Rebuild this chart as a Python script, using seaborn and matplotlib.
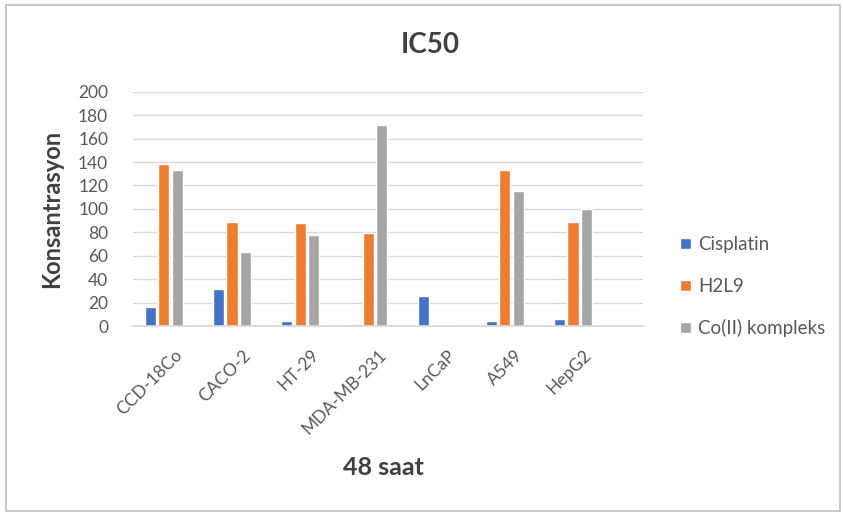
import matplotlib
matplotlib.use("Agg")
import matplotlib.pyplot as plt
from matplotlib.patches import Rectangle
from matplotlib.transforms import ScaledTranslation
import seaborn as sns
import pandas as pd

# IC50 values (48 h) per cell line
cell_lines = ["CCD-18Co", "CACO-2", "HT-29", "MDA-MB-231", "LnCaP", "A549", "HepG2"]
cisplatin = [16, 32, 4, 2, 26, 4, 6]
h2l9 = [138, 89, 88, 79, 0, 133, 89]
co_complex = [133, 63, 78, 172, 0, 115, 100]
series_names = ["Cisplatin", "H2L9", "Co(II) kompleks"]
y_ticks = [0, 20, 40, 60, 80, 100, 120, 140, 160, 180, 200]

colors = ["#4472C4", "#ED7D31", "#A5A5A5"]
text_gray = "#595959"
grid_gray = "#D9D9D9"

df = pd.DataFrame({
    "cell": cell_lines * 3,
    "series": [s for s in series_names for _ in cell_lines],
    "value": cisplatin + h2l9 + co_complex,
})

sns.set_theme(style="white")
plt.rcParams["font.family"] = ["Lato", "DejaVu Sans"]

fig = plt.figure(figsize=(8.43, 5.13), dpi=100)
ax = fig.add_axes([0.158, 0.3645, 0.605, 0.4567])

sns.barplot(data=df, x="cell", y="value", hue="series", order=cell_lines,
            hue_order=series_names, palette=colors, width=0.59, gap=0.17,
            saturation=1, ax=ax, legend=True)

ax.set_ylim(0, 200)
ax.set_xlim(-0.45, 7.03)
ax.set_yticks(y_ticks)
ax.set_yticklabels([str(t) for t in y_ticks], color=text_gray, fontsize=12.5)
ax.yaxis.grid(True, color=grid_gray, linewidth=1)
ax.set_axisbelow(True)
for side in ["top", "right", "left"]:
    ax.spines[side].set_visible(False)
ax.spines["bottom"].set_color(grid_gray)
ax.tick_params(axis="y", length=0, pad=18)
ax.tick_params(axis="x", length=0, pad=15)

ax.set_xticks(range(len(cell_lines)))
ax.set_xticklabels(cell_lines, rotation=45, ha="right", rotation_mode="anchor",
                   color=text_gray, fontsize=12.5)
# nudge the slanted category labels slightly to the right of their ticks
shift = ScaledTranslation(0.1, 0, fig.dpi_scale_trans)
for lbl in ax.get_xticklabels():
    lbl.set_transform(lbl.get_transform() + shift)

ax.set_xlabel("48 saat", fontsize=18, fontweight="bold", color="#404040")
ax.xaxis.set_label_coords(0.49, -0.555)
ax.set_ylabel("Konsantrasyon", fontsize=17, fontweight="bold", color="#404040")
ax.yaxis.set_label_coords(-0.137, 0.5)
fig.text(0.51, 0.912, "IC50", ha="center", va="center", fontsize=20,
         fontweight="bold", color="#404040")

leg = ax.legend(loc="center left", bbox_to_anchor=(1.04, 0.167), frameon=False,
                fontsize=13.5, labelspacing=1.3, handlelength=0.55, handleheight=0.55,
                handletextpad=0.4)
for t in leg.get_texts():
    t.set_color(text_gray)

fig.patches.append(Rectangle((0.007, 0.004), 0.99, 0.986, transform=fig.transFigure,
                             fill=False, edgecolor="#BFBFBF", linewidth=1.2))

fig.savefig("out.png", dpi=100)
